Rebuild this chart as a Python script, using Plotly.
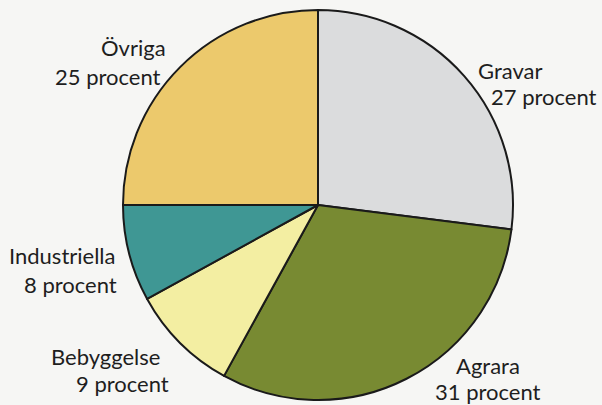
import plotly.graph_objects as go

W, H = 602, 405

categories = ["Gravar", "Agrara", "Bebyggelse", "Industriella", "Övriga"]
shares = [27, 31, 9, 8, 25]
colors = ["#dbdcdd", "#788a32", "#f3eea2", "#3f9794", "#ecc96c"]

# label placement in pixels: (name x, name y, value x, value y)
label_pos = {
    "Gravar": (510, 70, 544, 97),
    "Agrara": (488, 365, 488, 391),
    "Bebyggelse": (106, 356, 122, 383),
    "Industriella": (62, 255, 70, 284),
    "Övriga": (133, 48, 108, 76),
}

fig = go.Figure(
    go.Pie(
        labels=categories,
        values=shares,
        sort=False,
        direction="clockwise",
        rotation=0,
        marker={"colors": colors, "line": {"color": "#1a1a1a", "width": 2}},
        textinfo="none",
        hoverinfo="label+percent",
        showlegend=False,
        domain={"x": [123 / W, 513 / W], "y": [5 / H, 395 / H]},
    )
)

font = {"family": "Lato, 'Open Sans', sans-serif", "size": 22, "color": "#1e1e1e"}
for name, val in zip(categories, shares):
    nx, ny, vx, vy = label_pos[name]
    fig.add_annotation(text=name, x=nx / W, y=1 - ny / H, xref="paper", yref="paper",
                       showarrow=False, font=font, xanchor="center", yanchor="middle")
    fig.add_annotation(text=f"{val} procent", x=vx / W, y=1 - vy / H, xref="paper",
                       yref="paper", showarrow=False, font=font,
                       xanchor="center", yanchor="middle")

fig.update_layout(
    width=W,
    height=H,
    margin={"l": 0, "r": 0, "t": 0, "b": 0},
    paper_bgcolor="#f6f6f4",
    plot_bgcolor="#f6f6f4",
)

fig.write_html(
    "out.html",
    config={"displayModeBar": False},
    post_script="document.body.style.margin='0';document.body.style.background='#f6f6f4';",
)
